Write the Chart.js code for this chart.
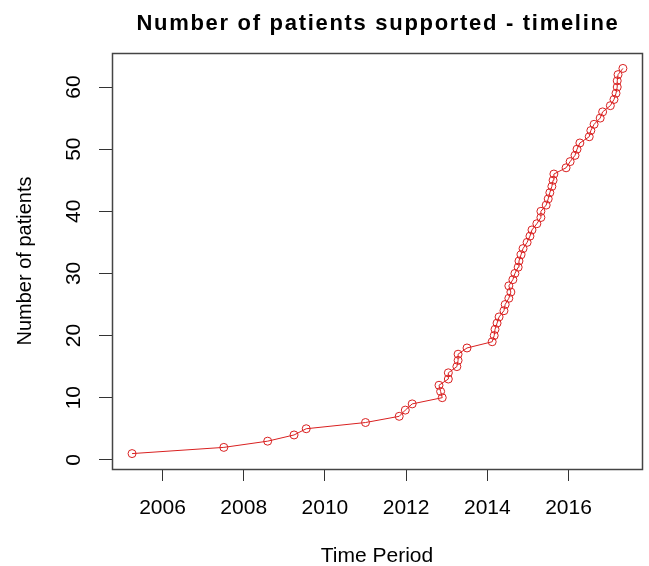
<!DOCTYPE html>
<html lang="en">
<head>
  <meta charset="UTF-8" />
  <title>Number of patients supported - timeline</title>
  <style>
    body {
      margin: 0;
      background-color: #ffffff;
    }

    .chart-wrap {
      width: 649px;
      height: 566px;
    }
  </style>
</head>
<body>
  <div class="chart-wrap">
    <canvas id="timelineChart" width="649" height="566"></canvas>
  </div>

  <script src="https://cdn.jsdelivr.net/npm/chart.js"></script>
  <script>
    // Data: date of each new patient (decimal year) and running count
    const years = [
      2005.25, 2007.51, 2008.59, 2009.24, 2009.54, 2011.00, 2011.83, 2011.98, 2012.15, 2012.89,
      2012.85, 2012.81, 2013.04, 2013.04, 2013.25, 2013.28, 2013.28, 2013.50, 2014.12, 2014.17,
      2014.19, 2014.24, 2014.29, 2014.41, 2014.44, 2014.53, 2014.58, 2014.53, 2014.63, 2014.68,
      2014.76, 2014.78, 2014.83, 2014.88, 2014.98, 2015.05, 2015.10, 2015.22, 2015.32, 2015.32,
      2015.45, 2015.50, 2015.54, 2015.59, 2015.62, 2015.64, 2015.94, 2016.04, 2016.16, 2016.21,
      2016.28, 2016.51, 2016.55, 2016.63, 2016.78, 2016.84, 2017.03, 2017.12, 2017.17, 2017.20,
      2017.20, 2017.22, 2017.34
    ];
    const patients = [
      1, 2, 3, 4, 5, 6, 7, 8, 9, 10,
      11, 12, 13, 14, 15, 16, 17, 18, 19, 20,
      21, 22, 23, 24, 25, 26, 27, 28, 29, 30,
      31, 32, 33, 34, 35, 36, 37, 38, 39, 40,
      41, 42, 43, 44, 45, 46, 47, 48, 49, 50,
      51, 52, 53, 54, 55, 56, 57, 58, 59, 60,
      61, 62, 63
    ];
    const xTicks = [2006, 2008, 2010, 2012, 2014, 2016];
    const yTicks = [0, 10, 20, 30, 40, 50, 60];

    const titleText = 'Number of patients supported - timeline';
    const xTitle = 'Time Period';
    const yTitle = 'Number of patients';

    const points = years.map((yr, i) => ({ x: yr, y: patients[i] }));

    // R-style box, rotated y labels, axis titles and spaced bold title
    const rFrame = {
      id: 'rFrame',
      afterDraw(chart) {
        const ctx = chart.ctx;
        const area = chart.chartArea;
        const yScale = chart.scales.y;

        ctx.save();
        ctx.strokeStyle = '#444';
        ctx.lineWidth = 1.5;
        ctx.strokeRect(area.left + 0.5, area.top + 0.5, area.right - area.left, area.bottom - area.top);

        ctx.fillStyle = '#000';
        ctx.font = '21px "Liberation Sans", Arial, sans-serif';
        ctx.textAlign = 'center';
        ctx.textBaseline = 'alphabetic';
        yTicks.forEach((v) => {
          ctx.save();
          ctx.translate(80, yScale.getPixelForValue(v));
          ctx.rotate(-Math.PI / 2);
          ctx.fillText(String(v), 0, 0);
          ctx.restore();
        });

        ctx.font = '20px "Liberation Sans", Arial, sans-serif';
        ctx.save();
        ctx.translate(31, (area.top + area.bottom) / 2);
        ctx.rotate(-Math.PI / 2);
        ctx.fillText(yTitle, 0, 0);
        ctx.restore();

        ctx.font = '21px "Liberation Sans", Arial, sans-serif';
        ctx.fillText(xTitle, (area.left + area.right) / 2, 562);

        ctx.font = 'bold 22px "Liberation Sans", Arial, sans-serif';
        ctx.letterSpacing = '1.7px';
        ctx.fillText(titleText, (area.left + area.right) / 2 + 1, 30);
        ctx.restore();
      }
    };

    new Chart(document.getElementById('timelineChart'), {
      type: 'line',
      data: {
        datasets: [{
          data: points,
          borderColor: '#d92020',
          borderWidth: 1,
          pointStyle: 'circle',
          pointRadius: 4,
          pointBorderWidth: 1,
          pointBorderColor: '#d92020',
          pointBackgroundColor: 'rgba(0,0,0,0)',
          tension: 0,
          fill: false
        }]
      },
      options: {
        responsive: false,
        animation: false,
        events: [],
        layout: {
          padding: { left: 0, right: 7, top: 53, bottom: 0 }
        },
        plugins: {
          legend: { display: false },
          title: { display: false },
          tooltip: { enabled: false }
        },
        scales: {
          x: {
            type: 'linear',
            min: 2004.756,
            max: 2017.81,
            afterBuildTicks: (scale) => { scale.ticks = xTicks.map((v) => ({ value: v })); },
            afterFit: (scale) => { scale.height = 97; },
            border: { display: false },
            grid: {
              drawOnChartArea: false,
              drawTicks: true,
              tickLength: 12,
              color: '#333'
            },
            ticks: {
              color: '#000',
              padding: 15,
              maxRotation: 0,
              font: { family: '"Liberation Sans", Arial, sans-serif', size: 21 },
              callback: (v) => String(v)
            }
          },
          y: {
            type: 'linear',
            min: -1.48,
            max: 65.48,
            afterBuildTicks: (scale) => { scale.ticks = yTicks.map((v) => ({ value: v })); },
            afterFit: (scale) => { scale.width = 112; },
            border: { display: false },
            grid: {
              drawOnChartArea: false,
              drawTicks: true,
              tickLength: 13,
              color: '#333'
            },
            ticks: { display: false }
          }
        }
      },
      plugins: [rFrame]
    });
  </script>
</body>
</html>
